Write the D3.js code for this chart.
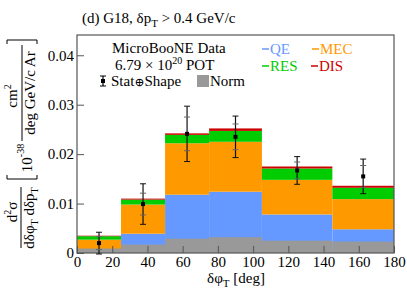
<!DOCTYPE html>
<html>
<head>
<meta charset="utf-8">
<script src="https://cdn.jsdelivr.net/npm/d3@7"></script>
<style>
  body { margin: 0; background: #fff; }
  svg { display: block; font-family: "Liberation Serif", "DejaVu Serif", serif; }
  .axis line { stroke: #555; }
</style>
</head>
<body>
<div id="chart"></div>
<script>
// bins in delta phi_T [deg]
var binEdges = [0, 25, 50, 75, 105, 145, 180];
// stacked G18 prediction, 10^-38 cm2 / deg GeV/c Ar
var qe  = [0.0008, 0.0039, 0.0118, 0.0124, 0.0078, 0.0048];
var mec = [0.0019, 0.0059, 0.0104, 0.0101, 0.0070, 0.0061];
var res = [0.0007, 0.0010, 0.0017, 0.0022, 0.0023, 0.0023];
var dis = [0.0001, 0.0002, 0.0003, 0.0005, 0.0004, 0.0004];
// normalisation uncertainty band
var norm = [0.0009, 0.0017, 0.0029, 0.0032, 0.0025, 0.0023];
// data
var dataVal  = [0.0020, 0.0099, 0.0241, 0.0235, 0.0167, 0.0155];
var errTot   = [0.0022, 0.0041, 0.0056, 0.0042, 0.0028, 0.0035];
var errStat  = [0.0013, 0.0022, 0.0034, 0.0026, 0.0017, 0.0022];
var xTicks = [0, 20, 40, 60, 80, 100, 120, 140, 160, 180];
var yTicks = [0, 0.01, 0.02, 0.03, 0.04];

var margin = {left: 77, right: 13, top: 35, bottom: 42};
var width = 407, height = 295;
var serif = "Liberation Serif";

var x = d3.scaleLinear().domain([0, 180]).range([margin.left, width - margin.right]);
var y = d3.scaleLinear().domain([0, 0.0441]).range([height - margin.bottom, margin.top]);

var svg = d3.select("#chart").append("svg")
    .attr("width", width)
    .attr("height", height);

// stack the channels
var bins = binEdges.slice(0, -1).map(function(lo, i) {
  return {lo: lo, hi: binEdges[i + 1], qe: qe[i], mec: mec[i], res: res[i], dis: dis[i],
          norm: norm[i], val: dataVal[i], tot: errTot[i], stat: errStat[i]};
});
var keys = ["qe", "mec", "res", "dis"];
var colors = {qe: "#6699ff", mec: "#ff9900", res: "#00cc00", dis: "#cc0000"};
var stack = d3.stack().keys(keys)(bins);

svg.append("g").selectAll("g")
  .data(stack)
  .enter().append("g")
    .attr("fill", function(d) { return colors[d.key]; })
  .selectAll("rect")
  .data(function(d) { return d; })
  .enter().append("rect")
    .attr("x", function(d) { return x(d.data.lo); })
    .attr("width", function(d) { return x(d.data.hi) - x(d.data.lo); })
    .attr("y", function(d) { return y(d[1]); })
    .attr("height", function(d) { return y(d[0]) - y(d[1]); });

// norm band
svg.append("g").selectAll("rect")
  .data(bins)
  .enter().append("rect")
    .attr("x", function(d) { return x(d.lo); })
    .attr("width", function(d) { return x(d.hi) - x(d.lo); })
    .attr("y", function(d) { return y(d.norm); })
    .attr("height", function(d) { return y(0) - y(d.norm); })
    .attr("fill", "#999999");

// axes with inward ticks
var xAxis = svg.append("g")
    .attr("class", "axis")
    .attr("transform", "translate(0," + y(0) + ")")
    .call(d3.axisBottom(x).tickValues(xTicks).tickSizeInner(-7).tickSizeOuter(0).tickPadding(3));
xAxis.select(".domain").remove();

var yAxis = svg.append("g")
    .attr("class", "axis")
    .attr("transform", "translate(" + x(0) + ",0)")
    .call(d3.axisLeft(y).tickValues(yTicks).tickSizeInner(-7).tickSizeOuter(0).tickPadding(3)
      .tickFormat(function(d) { return d === 0 ? "0" : d3.format(".2f")(d); }));
yAxis.select(".domain").remove();

svg.selectAll(".axis").attr("font-family", serif).attr("font-size", 15);
svg.selectAll(".axis text").attr("fill", "#000");

// frame
svg.append("rect")
    .attr("x", x(0)).attr("y", y.range()[1])
    .attr("width", x(180) - x(0)).attr("height", y(0) - y.range()[1])
    .attr("fill", "none").attr("stroke", "#555").attr("stroke-width", 1.2);

// data points
var pts = svg.append("g").selectAll("g")
  .data(bins)
  .enter().append("g")
    .attr("transform", function(d) { return "translate(" + x((d.lo + d.hi) / 2) + ",0)"; });

pts.append("line")
    .attr("y1", function(d) { return y(d.val + d.tot); })
    .attr("y2", function(d) { return y(d.val - d.tot); })
    .attr("stroke", "#111").attr("stroke-width", 1.2);
pts.selectAll(".cap")
  .data(function(d) { return [d.val + d.tot, d.val - d.tot]; })
  .enter().append("line")
    .attr("x1", -3).attr("x2", 3)
    .attr("y1", function(v) { return y(v); }).attr("y2", function(v) { return y(v); })
    .attr("stroke", "#111").attr("stroke-width", 1);
pts.selectAll(".scap")
  .data(function(d) { return [d.val + d.stat, d.val - d.stat]; })
  .enter().append("line")
    .attr("x1", -3).attr("x2", 3)
    .attr("y1", function(v) { return y(v); }).attr("y2", function(v) { return y(v); })
    .attr("stroke", "#666").attr("stroke-width", 1);
pts.append("rect")
    .attr("x", -2).attr("width", 4)
    .attr("y", function(d) { return y(d.val) - 2; }).attr("height", 4)
    .attr("fill", "#000");

// title
var title = svg.append("text").attr("x", 82).attr("y", 23).attr("font-size", 15);
title.append("tspan").text("(d) G18, δp");
title.append("tspan").attr("dy", 4).attr("font-size", 11).text("T");
title.append("tspan").attr("dy", -4).text(" > 0.4 GeV/c");

// legend
svg.append("text").attr("x", 112).attr("y", 53).attr("font-size", 15).text("MicroBooNE Data");
var pot = svg.append("text").attr("x", 115).attr("y", 70).attr("font-size", 15);
pot.append("tspan").text("6.79 × 10");
pot.append("tspan").attr("dy", -6).attr("font-size", 10).text("20");
pot.append("tspan").attr("dy", 6).text(" POT");

var lg = svg.append("g").attr("transform", "translate(103,81)");
lg.append("line").attr("y1", -5).attr("y2", 5).attr("stroke", "#000").attr("stroke-width", 1.2);
lg.append("line").attr("x1", -3).attr("x2", 3).attr("y1", -5).attr("y2", -5).attr("stroke", "#000");
lg.append("line").attr("x1", -3).attr("x2", 3).attr("y1", 5).attr("y2", 5).attr("stroke", "#000");
lg.append("rect").attr("x", -2).attr("y", -2).attr("width", 4).attr("height", 4);
var ss = svg.append("text").attr("x", 111).attr("y", 86).attr("font-size", 15);
ss.append("tspan").text("Stat");
ss.append("tspan").attr("font-size", 12).text("⊕");
ss.append("tspan").text("Shape");
svg.append("rect").attr("x", 197).attr("y", 75).attr("width", 12).attr("height", 12).attr("fill", "#999");
svg.append("text").attr("x", 210).attr("y", 86).attr("font-size", 15).text("Norm");

var chan = [
  {key: "qe", label: "QE", x: 262, y: 54},
  {key: "mec", label: "MEC", x: 312, y: 54},
  {key: "res", label: "RES", x: 262, y: 71},
  {key: "dis", label: "DIS", x: 311, y: 71}
];
chan.forEach(function(c) {
  svg.append("line").attr("x1", c.x).attr("x2", c.x + 7).attr("y1", c.y - 5).attr("y2", c.y - 5)
      .attr("stroke", colors[c.key]).attr("stroke-width", 1.5);
  svg.append("text").attr("x", c.x + 8).attr("y", c.y).attr("font-size", 15)
      .attr("font-family", serif).attr("fill", colors[c.key]).text(c.label);
});

// x title
var xt = svg.append("text").attr("x", 236).attr("y", 283).attr("text-anchor", "middle").attr("font-size", 15);
xt.append("tspan").text("δφ");
xt.append("tspan").attr("dy", 4).attr("font-size", 11).text("T");
xt.append("tspan").attr("dy", -4).text(" [deg]");

// y title, rotated: u = -screen y, v = screen x
var yl = svg.append("g").attr("transform", "rotate(-90)").attr("font-size", 15);
var num1 = yl.append("text").attr("x", -212).attr("y", 17).attr("text-anchor", "middle");
num1.append("tspan").text("d");
num1.append("tspan").attr("dy", -6).attr("font-size", 10).text("2");
num1.append("tspan").attr("dy", 6).text("σ");
yl.append("line").attr("x1", -248).attr("x2", -187).attr("y1", 21).attr("y2", 21).attr("stroke", "#000");
var den1 = yl.append("text").attr("x", -218).attr("y", 34).attr("text-anchor", "middle");
den1.append("tspan").text("dδφ");
den1.append("tspan").attr("dy", 4).attr("font-size", 10).text("T");
den1.append("tspan").attr("dy", -4).text(" dδp");
den1.append("tspan").attr("dy", 4).attr("font-size", 10).text("T");

yl.append("path").attr("d", "M-175,7 L-179,7 L-179,37 L-175,37").attr("fill", "none").attr("stroke", "#000");
var ten = yl.append("text").attr("x", -158).attr("y", 32).attr("text-anchor", "middle");
ten.append("tspan").text("10");
ten.append("tspan").attr("dy", -8).attr("font-size", 10).text("-38");

var num2 = yl.append("text").attr("x", -96).attr("y", 17).attr("text-anchor", "middle");
num2.append("tspan").text("cm");
num2.append("tspan").attr("dy", -6).attr("font-size", 10).text("2");
yl.append("line").attr("x1", -141).attr("x2", -45).attr("y1", 22).attr("y2", 22).attr("stroke", "#000");
yl.append("text").attr("x", -93).attr("y", 35).attr("text-anchor", "middle").text("deg GeV/c Ar");
yl.append("path").attr("d", "M-44,7 L-40,7 L-40,37 L-44,37").attr("fill", "none").attr("stroke", "#000");
</script>
</body>
</html>
